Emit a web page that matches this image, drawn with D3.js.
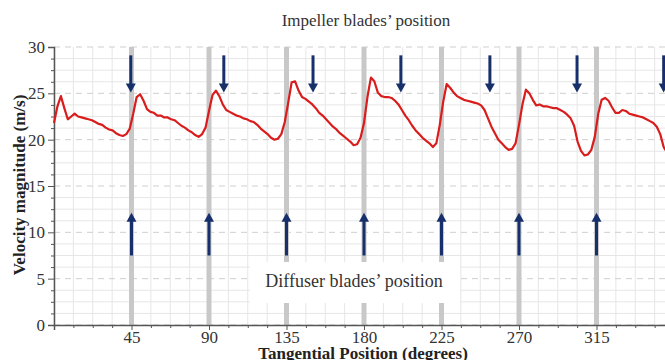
<!DOCTYPE html>
<html lang="en">
<head>
  <meta charset="UTF-8">
  <script src="https://d3js.org/d3.v7.min.js"></script>
  <title>Velocity magnitude</title>
  <style>
    body { margin: 0; background: #fff; }
    svg { display: block; font-family: "Liberation Serif", "Times New Roman", serif; }
  </style>
</head>
<body>
  <script>
    // tangential position (degrees) and velocity magnitude (m/s)
    const angle = [0, 2, 4, 6, 8, 10, 12, 14, 16, 18, 20, 22, 24, 26, 28, 30, 32, 34, 36, 38,
      40, 42, 44, 46, 48, 50, 52, 54, 56, 58, 60, 62, 64, 66, 68, 70, 72, 74, 76, 78,
      80, 82, 84, 86, 88, 90, 92, 94, 96, 98, 100, 102, 104, 106, 108, 110, 112, 114, 116, 118,
      120, 122, 124, 126, 128, 130, 132, 134, 136, 138, 140, 142, 144, 146, 148, 150, 152, 154, 156, 158,
      160, 162, 164, 166, 168, 170, 172, 174, 176, 178, 180, 182, 184, 186, 188, 190, 192, 194, 196, 198,
      200, 202, 204, 206, 208, 210, 212, 214, 216, 218, 220, 222, 224, 226, 228, 230, 232, 234, 236, 238,
      240, 242, 244, 246, 248, 250, 252, 254, 256, 258, 260, 262, 264, 266, 268, 270, 272, 274, 276, 278,
      280, 282, 284, 286, 288, 290, 292, 294, 296, 298, 300, 302, 304, 306, 308, 310, 312, 314, 316, 318,
      320, 322, 324, 326, 328, 330, 332, 334, 336, 338, 340, 342, 344, 346, 348, 350, 352, 354, 356]
    const velocity = [21.8, 23.6, 24.7, 23.4, 22.2, 22.5, 22.8, 22.5, 22.4, 22.3, 22.2, 22.1, 21.9, 21.7, 21.6, 21.3, 21.1, 21.0, 20.7, 20.5,
      20.4, 20.6, 21.2, 22.8, 24.6, 24.9, 24.2, 23.3, 23.0, 22.9, 22.6, 22.6, 22.4, 22.4, 22.2, 22.1, 21.8, 21.5, 21.3, 21.0,
      20.8, 20.5, 20.3, 20.6, 21.3, 23.1, 24.8, 25.3, 24.7, 23.8, 23.2, 23.0, 22.8, 22.6, 22.5, 22.3, 22.2, 22.0, 21.9, 21.6,
      21.2, 20.9, 20.6, 20.2, 20.0, 20.1, 20.6, 21.9, 24.0, 26.2, 26.3, 25.3, 24.6, 24.4, 24.1, 23.8, 23.4, 22.9, 22.6, 22.2,
      21.8, 21.4, 21.1, 20.7, 20.4, 20.1, 19.8, 19.4, 19.5, 20.2, 21.8, 24.6, 26.7, 26.3, 25.1, 24.7, 24.6, 24.6, 24.5, 24.2,
      23.8, 23.2, 22.6, 22.1, 21.5, 21.0, 20.6, 20.2, 19.9, 19.6, 19.2, 19.6, 21.6, 24.1, 26.0, 25.6, 25.1, 24.7, 24.5, 24.3,
      24.2, 24.1, 24.0, 23.9, 23.7, 23.2, 22.3, 21.4, 20.7, 20.0, 19.6, 19.2, 18.9, 19.0, 19.6, 21.6, 23.8, 25.4, 25.0, 24.3,
      23.7, 23.8, 23.6, 23.6, 23.5, 23.4, 23.4, 23.2, 23.0, 22.7, 22.3, 21.5, 19.8, 18.8, 18.3, 18.4, 18.9, 20.3, 22.8, 24.3,
      24.5, 24.2, 23.5, 22.9, 22.9, 23.2, 23.1, 22.8, 22.7, 22.6, 22.5, 22.4, 22.2, 22.0, 21.8, 21.4, 20.6, 19.2, 18.6]

    // diffuser blade positions (up arrows, grey bands) and impeller blade positions (down arrows)
    const diffuserBlades = [45, 90, 135, 180, 225, 270, 315]
    const impellerBlades = [44.6, 98.6, 150.4, 201.4, 253.1, 303.7, 354]
    const xTicks = [45, 90, 135, 180, 225, 270, 315]
    const yTicks = [0, 5, 10, 15, 20, 25, 30]

    const width = 665, height = 360
    const margin = { top: 47, left: 54 }
    const plotW = 620, plotH = 278

    const svg = d3.select("body").append("svg")
        .attr("width", width)
        .attr("height", height)

    const x = d3.scaleLinear().domain([0, 360]).range([margin.left, margin.left + plotW])
    const y = d3.scaleLinear().domain([0, 30]).range([margin.top + plotH, margin.top])

    // minor grid
    const minorX = d3.range(0, 361, 11.25)
    const minorY = d3.range(0, 30.01, 1.25)
    svg.append("g").selectAll("line")
        .data(minorX)
        .join("line")
        .attr("x1", d => x(d)).attr("x2", d => x(d))
        .attr("y1", y(0)).attr("y2", y(30))
        .attr("stroke", "#e6e6e6").attr("stroke-width", 1)
    svg.append("g").selectAll("line")
        .data(minorY)
        .join("line")
        .attr("x1", x(0)).attr("x2", x(360))
        .attr("y1", d => y(d)).attr("y2", d => y(d))
        .attr("stroke", d => d % 5 === 0 ? "#cfcfcf" : "#e6e6e6")
        .attr("stroke-dasharray", d => d % 5 === 0 ? "6,5" : null)
        .attr("stroke-width", 1)

    // grey bands at diffuser blades
    svg.append("g").selectAll("rect")
        .data(diffuserBlades)
        .join("rect")
        .attr("x", d => x(d) - 2.5)
        .attr("width", 5)
        .attr("y", y(30))
        .attr("height", plotH)
        .attr("fill", "#c8c8c8")

    // axes
    svg.append("g")
        .attr("transform", `translate(${margin.left},0)`)
        .call(d3.axisLeft(y).tickValues(yTicks).tickSize(6).tickPadding(3))
    svg.append("g")
        .attr("transform", `translate(${margin.left},0)`)
        .call(d3.axisLeft(y).tickValues(minorY.filter(d => d % 5 !== 0)).tickSize(3).tickFormat(""))
        .call(g => g.select(".domain").remove())
    svg.append("g")
        .attr("transform", `translate(0,${y(0)})`)
        .call(d3.axisBottom(x).tickValues(xTicks).tickSize(5).tickPadding(1))
    svg.append("g")
        .attr("transform", `translate(0,${y(0)})`)
        .call(d3.axisBottom(x).tickValues(minorX.filter(d => d % 45 !== 0)).tickSize(3).tickFormat(""))
        .call(g => g.select(".domain").remove())

    svg.selectAll(".domain").attr("stroke", "#555").attr("stroke-width", 1.5)
    svg.selectAll(".tick line").attr("stroke", "#555")
    svg.selectAll(".tick text")
        .attr("font-family", "Liberation Serif")
        .attr("font-size", 17)
        .attr("fill", "#333")

    // red velocity trace
    const line = d3.line()
        .x((d, i) => x(angle[i]))
        .y(d => y(d))
    svg.append("path")
        .datum(velocity)
        .attr("d", line)
        .attr("fill", "none")
        .attr("stroke", "#d91c1c")
        .attr("stroke-width", 2.2)
        .attr("stroke-linejoin", "round")

    // arrows
    const navy = "#17306b"
    function arrow(g, xPos, yTail, yTip) {
      const dir = yTip < yTail ? 1 : -1
      g.append("line")
          .attr("x1", xPos).attr("x2", xPos)
          .attr("y1", yTail).attr("y2", yTip + dir * 8)
          .attr("stroke", navy).attr("stroke-width", 3)
      g.append("path")
          .attr("d", `M${xPos - 5},${yTip + dir * 9} L${xPos},${yTip} L${xPos + 5},${yTip + dir * 9} Z`)
          .attr("fill", navy)
    }
    const arrows = svg.append("g")
    diffuserBlades.forEach(d => arrow(arrows, x(d), y(7.5), y(12.1)))
    impellerBlades.forEach(d => arrow(arrows, x(d), y(29.1), y(25.1)))

    // annotation boxes
    svg.append("rect")
        .attr("x", 250).attr("y", 262)
        .attr("width", 210).attr("height", 41)
        .attr("fill", "#fff")
    svg.append("text")
        .attr("x", 354).attr("y", 287)
        .attr("text-anchor", "middle")
        .attr("font-size", 18)
        .attr("fill", "#333")
        .text("Diffuser blades\u2019 position")
    svg.append("text")
        .attr("x", 366).attr("y", 26)
        .attr("text-anchor", "middle")
        .attr("font-size", 17)
        .attr("fill", "#333")
        .text("Impeller blades\u2019 position")

    // axis titles
    svg.append("text")
        .attr("transform", `translate(25,${185}) rotate(-90)`)
        .attr("text-anchor", "middle")
        .attr("font-size", 17)
        .attr("font-weight", "bold")
        .attr("fill", "#222")
        .text("Velocity magnitude (m/s)")
    svg.append("text")
        .attr("x", 363).attr("y", 359)
        .attr("text-anchor", "middle")
        .attr("font-size", 17)
        .attr("font-weight", "bold")
        .attr("fill", "#222")
        .text("Tangential Position (degrees)")
  </script>
</body>
</html>
